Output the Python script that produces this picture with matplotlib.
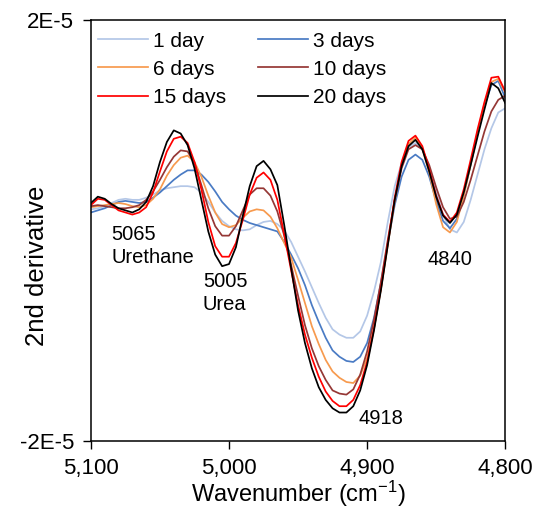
import matplotlib
matplotlib.use("Agg")
import matplotlib.pyplot as plt
from matplotlib.ticker import FixedLocator, FuncFormatter

plt.rcParams['font.family'] = ['Liberation Sans', 'DejaVu Sans']
plt.rcParams['mathtext.fontset'] = 'custom'
plt.rcParams['mathtext.rm'] = 'Liberation Sans'
plt.rcParams['mathtext.it'] = 'Liberation Sans'

# wavenumber grid (cm-1), 5100 -> 4800 every 5
wavenumber = list(range(5100, 4795, -5))

# 2nd derivative values, in units of 1E-6
day1 = [2.0, 2.1, 2.3, 2.6, 2.9, 3.0, 2.9, 2.9, 3.1, 3.4, 3.8, 4.0, 4.1, 4.2, 4.2, 4.1,
        3.6, 2.7, 1.7, 0.9, 0.4, 0.1, 0.0, 0.1, 0.5, 0.8, 0.9, 0.6, 0.0, -1.1, -2.5,
        -3.9, -5.4, -6.9, -8.3, -9.4, -9.9, -10.2, -10.2, -9.6, -8.1, -5.8, -3.0, 0.8,
        4.2, 6.4, 7.9, 8.3, 7.7, 5.9, 3.7, 1.5, 0.1, -0.2, 0.8, 2.9, 5.3, 7.7, 9.7,
        11.2, 11.6]
day3 = [1.7, 1.9, 2.1, 2.4, 2.7, 2.8, 2.7, 2.6, 2.7, 3.1, 3.6, 4.2, 4.8, 5.3, 5.7, 5.7,
        5.3, 4.6, 3.7, 2.7, 2.0, 1.4, 1.0, 0.7, 0.5, 0.3, 0.1, -0.1, -1.1, -2.3, -3.6,
        -5.2, -7.1, -8.7, -10.2, -11.4, -12.0, -12.4, -12.5, -12.0, -10.7, -8.3, -5.0,
        -1.2, 2.4, 5.1, 6.7, 7.2, 6.7, 5.1, 2.8, 0.9, 0.2, 1.1, 3.4, 6.3, 9.2, 11.8,
        13.8, 14.2, 12.6]
day6 = [2.2, 2.3, 2.4, 2.5, 2.6, 2.5, 2.3, 2.2, 2.4, 3.0, 3.9, 5.2, 6.2, 6.9, 7.1, 6.5,
        5.1, 3.3, 1.7, 0.6, 0.3, 0.5, 1.2, 1.8, 2.0, 1.9, 1.3, 0.2, -1.2, -2.6, -4.7,
        -6.9, -9.1, -10.8, -12.3, -13.4, -14.0, -14.4, -14.5, -13.8, -12.1, -9.3, -5.6,
        -1.4, 2.8, 6.2, 8.2, 8.8, 7.8, 5.5, 2.5, 0.3, -0.2, 0.8, 3.3, 6.2, 9.3, 12.0,
        14.1, 14.4, 13.1]
day10 = [2.3, 2.4, 2.3, 2.2, 2.1, 2.1, 2.2, 2.4, 2.9, 3.7, 4.8, 6.0, 7.0, 7.6, 7.5, 6.4,
         4.3, 2.1, 0.4, -0.5, -0.5, 0.4, 1.9, 3.4, 4.0, 4.0, 3.3, 1.8, -0.5, -3.3, -6.2,
         -9.0, -11.2, -12.9, -14.2, -15.2, -15.5, -15.6, -15.1, -13.7, -11.5, -8.5, -4.9,
         -0.9, 2.9, 5.9, 7.7, 8.1, 7.7, 6.2, 4.1, 2.2, 1.1, 1.3, 2.7, 4.8, 7.1, 9.4,
         11.3, 12.4, 12.8]
day15 = [2.4, 3.0, 2.9, 2.4, 1.9, 1.7, 1.5, 1.7, 2.2, 3.6, 5.6, 7.5, 8.7, 8.9, 8.3, 6.5,
         3.9, 0.8, -1.5, -2.5, -2.5, -1.2, 1.0, 3.4, 5.0, 5.5, 4.8, 2.9, -0.4, -3.8, -7.1,
         -9.9, -12.1, -13.9, -15.3, -16.2, -16.7, -16.7, -16.1, -14.7, -12.5, -9.3, -5.5,
         -1.2, 3.1, 6.5, 8.5, 9.0, 8.0, 5.8, 3.3, 1.5, 0.8, 1.7, 3.9, 6.7, 9.6, 12.2,
         14.5, 14.6, 13.2]
day20 = [2.6, 3.2, 3.0, 2.5, 2.1, 1.9, 1.7, 2.0, 2.7, 4.2, 6.5, 8.4, 9.5, 9.2, 8.1, 5.9,
         2.9, -0.1, -2.3, -3.4, -3.2, -1.6, 1.4, 4.2, 6.1, 6.6, 5.8, 4.3, 0.5, -3.6, -7.6,
         -10.7, -13.1, -14.9, -16.1, -16.9, -17.3, -17.3, -16.7, -15.2, -12.8, -9.5, -5.7,
         -1.4, 2.9, 6.1, 8.0, 8.6, 7.7, 5.6, 3.2, 1.4, 0.7, 1.5, 3.6, 6.2, 8.9, 11.5,
         14.0, 13.5, 12.1]

labels = ["1 day", "3 days", "6 days", "10 days", "15 days", "20 days"]
colors = ["#b4c7e7", "#4a7bc4", "#f79a4e", "#953735", "#ff0000", "#000000"]
series = [day1, day3, day6, day10, day15, day20]

xticks = [5100, 5000, 4900, 4800]
yticks = [-2e-5, 2e-5]
ytick_labels = ["-2E-5", "2E-5"]

# peak labels: (x, y in 1E-6, text)
peak_notes = [(5085, 0.5, "5065\nUrethane"),
              (5019, -4.0, "5005\nUrea"),
              (4906, -17.0, "4918"),
              (4856, -1.9, "4840")]

fig = plt.figure(figsize=(5.38, 5.08), dpi=100)
ax = fig.add_axes([0.169, 0.132, 0.770, 0.829])

lines = {}
for name, c, vals in zip(labels, colors, series):
    lines[name], = ax.plot(wavenumber, [v * 1e-6 for v in vals], color=c, lw=1.25,
                           solid_joinstyle='round')

ax.set_xlim(5100, 4800)
ax.set_ylim(-2e-5, 2e-5)
ax.xaxis.set_major_locator(FixedLocator(xticks))
ax.xaxis.set_major_formatter(FuncFormatter(lambda v, p: "{:,.0f}".format(v)))
ax.yaxis.set_major_locator(FixedLocator(yticks))
ax.set_yticklabels(ytick_labels)
ax.tick_params(axis='both', direction='out', length=6, width=1, labelsize=16, pad=6)
for s in ax.spines.values():
    s.set_linewidth(1.1)

ax.set_xlabel("Wavenumber (cm$^{-1}$)", fontsize=17)
ax.xaxis.set_label_coords(0.5, -0.09)
ax.set_ylabel("2nd derivative", fontsize=18.5)
ax.yaxis.set_label_coords(-0.10, 0.415)

for x, y, t in peak_notes:
    ax.text(x, y * 1e-6, t, fontsize=14.5, ha='left', va='top', linespacing=1.25)

# legend fills column by column
order = ["1 day", "6 days", "15 days", "3 days", "10 days", "20 days"]
ax.legend([lines[k] for k in order], order, ncol=2, frameon=False, fontsize=15,
          loc='upper left', bbox_to_anchor=(0.017, 0.972), borderaxespad=0,
          borderpad=0, handlelength=2.4, handletextpad=0.25, columnspacing=1.5,
          labelspacing=0.44)

fig.savefig("out.png", dpi=100)
